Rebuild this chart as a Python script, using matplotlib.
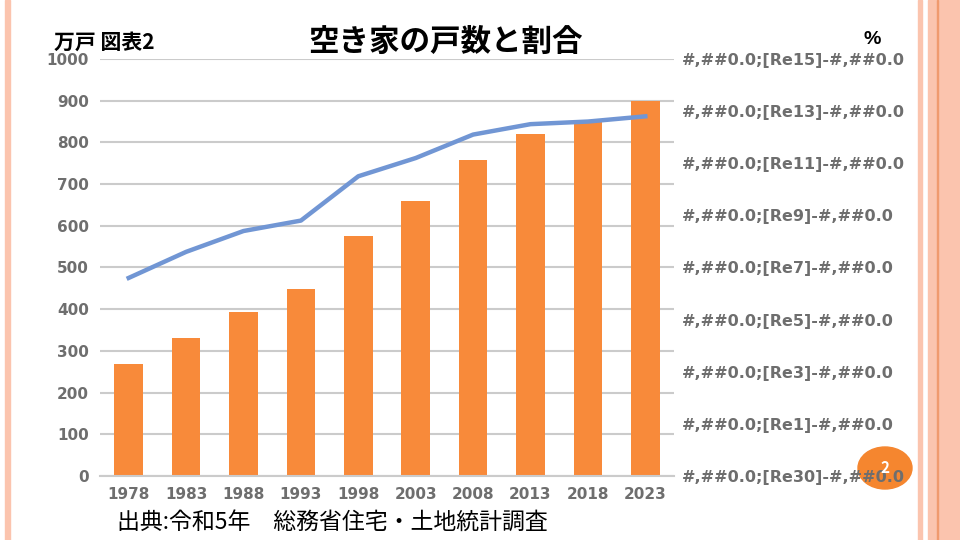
import matplotlib
matplotlib.use('Agg')
import matplotlib.pyplot as plt
from matplotlib.patches import Ellipse, Rectangle

plt.rcParams['font.family'] = ['Noto Sans CJK JP', 'DejaVu Sans']

# データ (住宅・土地統計調査)
years = ['1978', '1983', '1988', '1993', '1998', '2003', '2008', '2013', '2018', '2023']
akiya = [268, 330, 394, 448, 576, 659, 757, 820, 849, 900]      # 万戸
wariai = [7.6, 8.6, 9.4, 9.8, 11.5, 12.2, 13.1, 13.5, 13.6, 13.8]  # %
right_labels = ['#,##0.0;[Re30]-#,##0.0', '#,##0.0;[Re1]-#,##0.0', '#,##0.0;[Re3]-#,##0.0',
                '#,##0.0;[Re5]-#,##0.0', '#,##0.0;[Re7]-#,##0.0', '#,##0.0;[Re9]-#,##0.0',
                '#,##0.0;[Re11]-#,##0.0', '#,##0.0;[Re13]-#,##0.0', '#,##0.0;[Re15]-#,##0.0']

bar_color = '#F88A3A'
line_color = '#7196D4'
tick_color = '#6E6E6E'
grid_color = '#CBCBCB'
pink = '#FBC4AE'
tick_font = ['DejaVu Sans']

fig = plt.figure(figsize=(9.6, 5.4), dpi=100)
W, H = 960, 540

# スライドの飾り線
fig.patches.append(Rectangle((5 / W, 0), 5 / W, 1, transform=fig.transFigure, color=pink, zorder=-2))
fig.patches.append(Rectangle((918 / W, 0), 4 / W, 1, transform=fig.transFigure, color=pink, zorder=-2))
fig.patches.append(Rectangle((928 / W, 0), 32 / W, 1, transform=fig.transFigure, color=pink, zorder=-2))
fig.patches.append(Rectangle((936.5 / W, 0), 1.2 / W, 1, transform=fig.transFigure, color='#F09A6E', zorder=-2))

# スライド番号の丸 (目盛りラベルの下に描く)
fig.patches.append(Ellipse((885 / W, 1 - 468 / H), 54 / W, 42 / H, transform=fig.transFigure,
                           color='#F5862F', zorder=-1))

ax = fig.add_axes([100 / W, (H - 476) / H, 574 / W, 417 / H])
ax.patch.set_alpha(0)
x = list(range(len(years)))
ax.bar(x, akiya, width=0.5, color=bar_color, zorder=2)
ax.set_xlim(-0.5, len(years) - 0.5)
ax.set_ylim(0, 1000)
ax.set_yticks(range(0, 1001, 100))
ax.yaxis.grid(True, color=grid_color, linewidth=1.5, zorder=0)
for s in ['top', 'right', 'left']:
    ax.spines[s].set_visible(False)
ax.spines['bottom'].set_color(grid_color)
ax.spines['bottom'].set_linewidth(1.5)
ax.set_xticks(x)
ax.set_xticklabels(years)
ax.tick_params(axis='both', length=0, colors=tick_color, labelsize=11)
ax.tick_params(axis='y', pad=8)
ax.tick_params(axis='x', pad=8)
for lab in ax.get_xticklabels() + ax.get_yticklabels():
    lab.set_fontweight('bold')
    lab.set_family(tick_font)

ax2 = ax.twinx()
ax2.patch.set_alpha(0)
ax2.plot(x, wariai, color=line_color, linewidth=3.2, zorder=3)
ax2.set_ylim(0, 16)
ax2.set_yticks(range(0, 17, 2))
ax2.set_yticklabels(right_labels)
ax2.tick_params(axis='y', length=0, colors=tick_color, labelsize=11.5, pad=6)
for lab in ax2.get_yticklabels():
    lab.set_fontweight('bold')
    lab.set_family(tick_font)
for s in ax2.spines.values():
    s.set_visible(False)

# テキスト
fig.text(54 / W, 1 - 42 / H, '万戸 図表2', fontsize=15, fontweight='bold', va='center', ha='left')
fig.text(445 / W, 1 - 42 / H, '空き家の戸数と割合', fontsize=22, fontweight='bold', va='center', ha='center')
fig.text(872 / W, 1 - 40 / H, '%', fontsize=14, fontweight='bold', va='center', ha='center',
         family=['Liberation Sans', 'DejaVu Sans'])
fig.text(117 / W, 1 - 522 / H, '出典:令和5年\u3000総務省住宅・土地統計調査', fontsize=16.5, va='center', ha='left')
fig.text(885 / W, 1 - 468 / H, '2', color='white', fontsize=11, fontweight='bold',
         ha='center', va='center', zorder=6)

fig.savefig('out.png', dpi=100)
